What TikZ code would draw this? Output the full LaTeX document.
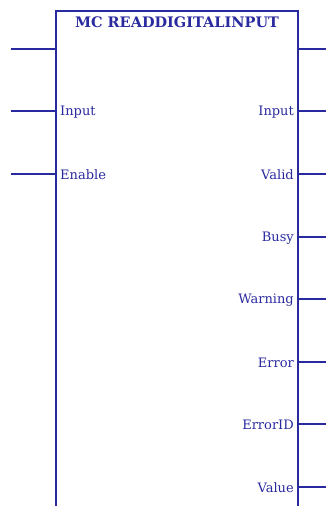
\documentclass[tikz,border=0pt]{standalone}
\usepackage{fontspec}
\setmainfont{DejaVu Serif}
\definecolor{fbblue}{HTML}{2A2AA0}
\begin{document}
\begin{tikzpicture}[x=1pt,y=-1pt,
  wire/.style={draw=fbblue,line width=2pt},
  lbl/.style={text=fbblue,font=\fontsize{13}{15}\selectfont,inner sep=0pt},
  ttl/.style={text=fbblue,font=\bfseries\fontsize{14.5}{17}\selectfont,inner sep=0pt}]
\useasboundingbox (0,0) rectangle (326,506);
% box corners
\coordinate (tl) at (56,11);
\coordinate (tr) at (298,11);
\coordinate (bl) at (56,507);
\coordinate (br) at (298,507);
\draw[wire] (bl) -- (tl) -- (tr) -- (br);
\node[ttl] (title) at (177,22) {MC READDIGITALINPUT};
% left pins
\foreach \n/\y in {l0/49,l1/111,l2/174}{
  \coordinate (\n a) at (11,\y);
  \coordinate (\n b) at (56,\y);
  \draw[wire] (\n a) -- (\n b);
}
\node[lbl,anchor=west] (inL) at (60,112) {Input};
\node[lbl,anchor=west] (enL) at (60,175) {Enable};
% right pins
\foreach \n/\y in {r0/49,r1/111,r2/174,r3/237,r4/299,r5/362,r6/424,r7/487}{
  \coordinate (\n a) at (298,\y);
  \coordinate (\n b) at (327,\y);
  \draw[wire] (\n a) -- (\n b);
}
\node[lbl,anchor=east] (inR) at (294,112) {Input};
\node[lbl,anchor=east] (vaR) at (294,175) {Valid};
\node[lbl,anchor=east] (buR) at (294,238) {Busy};
\node[lbl,anchor=east] (waR) at (294,300) {Warning};
\node[lbl,anchor=east] (erR) at (294,363) {Error};
\node[lbl,anchor=east] (eiR) at (294,425) {ErrorID};
\node[lbl,anchor=east] (vlR) at (294,488) {Value};
\end{tikzpicture}
\end{document}
